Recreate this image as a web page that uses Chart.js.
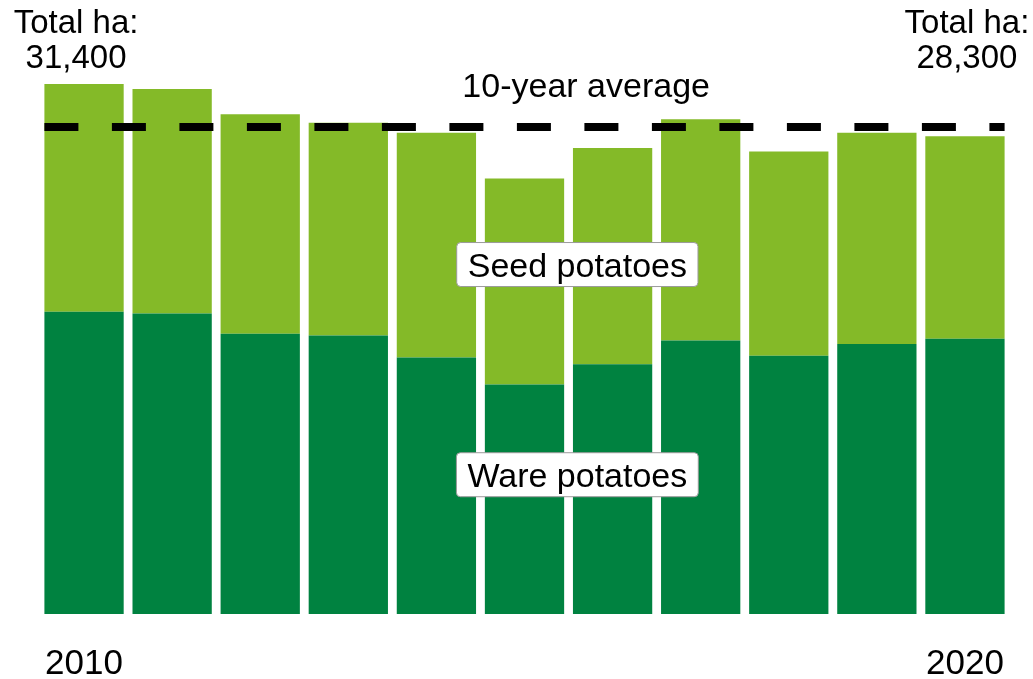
<!DOCTYPE html>
<html lang="en">

<head>
    <meta charset="UTF-8">
    <title>Potato area</title>
    <script src="https://cdn.jsdelivr.net/npm/chart.js"></script>
    <style>
        html, body { margin: 0; padding: 0; background: #ffffff; }
        #wrap { width: 1033px; height: 679px; }
    </style>
</head>

<body>
    <div id="wrap"><canvas id="potatoChart" width="1033" height="679"></canvas></div>

    <script>
        // Data (hectares)
        const years = ["2010", "2011", "2012", "2013", "2014", "2015", "2016", "2017", "2018", "2019", "2020"];
        const shownTicks = ["2010", "2020"];
        const wareHa = [17900, 17800, 16600, 16500, 15200, 13600, 14800, 16200, 15300, 16000, 16300];
        const seedHa = [13500, 13300, 13000, 12600, 13300, 12200, 12800, 13100, 12100, 12500, 12000];
        const tenYearAverage = 28850;
        const firstTotal = "31,400";
        const lastTotal = "28,300";

        const FONT = "'Liberation Sans', Arial, sans-serif";

        function labelBox(ctx, text, cx, cy) {
            ctx.font = "34px " + FONT;
            let w = ctx.measureText(text).width + 22;
            let h = 44;
            let x = cx - w / 2, y = cy - h / 2;
            ctx.beginPath();
            ctx.roundRect(x, y, w, h, 4);
            ctx.fillStyle = "#ffffff";
            ctx.fill();
            ctx.lineWidth = 1;
            ctx.strokeStyle = "#9a9a9a";
            ctx.stroke();
            ctx.fillStyle = "#000000";
            ctx.textAlign = "center";
            ctx.textBaseline = "alphabetic";
            ctx.fillText(text, cx, cy + 12);
        }

        const annotations = {
            id: "annotations",
            afterDatasetsDraw(chart) {
                let ctx = chart.ctx;
                let xs = chart.scales.x;
                let ys = chart.scales.y;
                let bars = chart.getDatasetMeta(0).data;
                let first = bars[0], last = bars[bars.length - 1];
                let step = xs.getPixelForValue(6) - xs.getPixelForValue(5);

                ctx.save();

                // dashed average line across the bars
                let avgY = ys.getPixelForValue(tenYearAverage);
                ctx.beginPath();
                ctx.setLineDash([34, 33.5]);
                ctx.lineWidth = 8;
                ctx.strokeStyle = "#000000";
                ctx.moveTo(first.x - first.width / 2, avgY);
                ctx.lineTo(last.x + last.width / 2, avgY);
                ctx.stroke();
                ctx.setLineDash([]);

                ctx.fillStyle = "#000000";
                ctx.textAlign = "center";
                ctx.textBaseline = "alphabetic";
                ctx.font = "34px " + FONT;
                ctx.fillText("10-year average", xs.getPixelForValue(5) + 0.7 * step, avgY - 30);

                // totals at both ends
                ctx.font = "33px " + FONT;
                let top = chart.chartArea.top;
                ctx.fillText("Total ha:", first.x - 8, top - 7);
                ctx.fillText(firstTotal, first.x - 8, top + 28);
                ctx.fillText("Total ha:", last.x + 2, top - 7);
                ctx.fillText(lastTotal, last.x + 2, top + 28);

                // series labels
                let boxX = xs.getPixelForValue(5) + 0.6 * step;
                labelBox(ctx, "Seed potatoes", boxX, ys.getPixelForValue(20700));
                labelBox(ctx, "Ware potatoes", boxX, ys.getPixelForValue(8250));

                ctx.restore();
            }
        };

        new Chart(document.getElementById("potatoChart"), {
            type: "bar",
            data: {
                labels: years,
                datasets: [{
                    label: "Ware potatoes",
                    data: wareHa,
                    backgroundColor: "#008240",
                    borderWidth: 0,
                    barPercentage: 0.9,
                    categoryPercentage: 1.0
                }, {
                    label: "Seed potatoes",
                    data: seedHa,
                    backgroundColor: "#84BA28",
                    borderWidth: 0,
                    barPercentage: 0.9,
                    categoryPercentage: 1.0
                }]
            },
            options: {
                responsive: false,
                animation: false,
                layout: { padding: { top: 40, left: 40, right: 24, bottom: -36 } },
                plugins: {
                    legend: { display: false },
                    tooltip: { enabled: false }
                },
                scales: {
                    x: {
                        stacked: true,
                        grid: { display: false, drawTicks: false },
                        border: { display: false },
                        ticks: {
                            autoSkip: false,
                            maxRotation: 0,
                            padding: 0,
                            color: "#000000",
                            // tall line box keeps the year labels well below the bars
                            font: { family: FONT, size: 35, lineHeight: "101px" },
                            callback: function (value) {
                                let lab = this.getLabelForValue(value);
                                return shownTicks.includes(lab) ? lab : "";
                            }
                        }
                    },
                    y: {
                        stacked: true,
                        display: false,
                        min: 0,
                        max: 34000
                    }
                }
            },
            plugins: [annotations]
        });
    </script>
</body>

</html>
